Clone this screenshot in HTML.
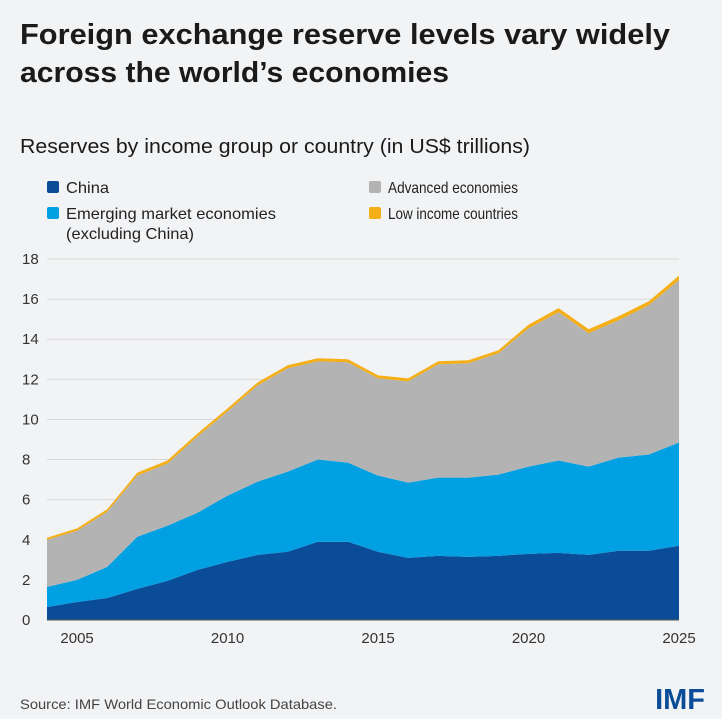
<!DOCTYPE html>
<html><head><meta charset="utf-8"><style>
body{margin:0;width:722px;height:719px;background:#f2f3f5;font-family:"Liberation Sans",sans-serif;overflow:hidden}
svg{position:absolute;left:0;top:0}
</style></head><body>
<svg id="c" width="722" height="719">
<text x="20" y="44" font-size="29" font-weight="bold" fill="#1a1a1a" textLength="650" lengthAdjust="spacingAndGlyphs">Foreign exchange reserve levels vary widely</text>
<text x="20" y="82" font-size="29" font-weight="bold" fill="#1a1a1a" textLength="429" lengthAdjust="spacingAndGlyphs">across the world’s economies</text>
<text x="20" y="153" font-size="20" fill="#1a1a1a" textLength="510" lengthAdjust="spacingAndGlyphs">Reserves by income group or country (in US$ trillions)</text>
<g font-size="16" fill="#222">
<rect x="47" y="181" width="12" height="12" rx="2" fill="#0a4c97"/>
<text x="66" y="193" textLength="43" lengthAdjust="spacingAndGlyphs">China</text>
<rect x="47" y="207" width="12" height="12" rx="2" fill="#00a0e2"/>
<text x="66" y="219" textLength="210" lengthAdjust="spacingAndGlyphs">Emerging market economies</text>
<text x="66" y="239" textLength="128" lengthAdjust="spacingAndGlyphs">(excluding China)</text>
<rect x="369" y="181" width="12" height="12" rx="2" fill="#b3b3b3"/>
<text x="388" y="193" textLength="130" lengthAdjust="spacingAndGlyphs">Advanced economies</text>
<rect x="369" y="207" width="12" height="12" rx="2" fill="#f4ae16"/>
<text x="388" y="219" textLength="130" lengthAdjust="spacingAndGlyphs">Low income countries</text>
</g>
<g id="grid"></g><g id="areas"></g><g id="axes"></g>
<text x="20" y="709" font-size="14" fill="#444" textLength="317" lengthAdjust="spacingAndGlyphs">Source: IMF World Economic Outlook Database.</text>
<text x="705" y="709" font-size="29" font-weight="bold" fill="#0a4c97" text-anchor="end">IMF</text>
</svg>
<script>
const years=[2004,2005,2006,2007,2008,2009,2010,2011,2012,2013,2014,2015,2016,2017,2018,2019,2020,2021,2022,2023,2024,2025];
const china=[0.65,0.9,1.1,1.55,1.95,2.5,2.9,3.25,3.4,3.9,3.9,3.4,3.1,3.2,3.15,3.2,3.3,3.35,3.25,3.45,3.45,3.7];
const emerging=[1.0,1.1,1.55,2.6,2.75,2.85,3.3,3.65,4.0,4.1,3.95,3.8,3.75,3.9,3.95,4.05,4.35,4.6,4.4,4.65,4.8,5.15];
const advanced=[2.35,2.45,2.75,3.05,3.1,3.8,4.2,4.8,5.15,4.9,5.0,4.85,5.05,5.65,5.7,6.05,6.9,7.4,6.65,6.85,7.45,8.1];
const lowIncome=[0.1,0.12,0.12,0.15,0.15,0.15,0.15,0.15,0.15,0.15,0.15,0.15,0.15,0.15,0.15,0.15,0.17,0.2,0.2,0.2,0.2,0.22];
const yTicks=[0,2,4,6,8,10,12,14,16,18];
const xTicks=[2005,2010,2015,2020,2025];
const NS="http://www.w3.org/2000/svg";
const X=y=>47+(y-2004)*(679-47)/(2025-2004);
const Y=v=>620-v*(620-259)/18;
function mk(t,a,p){const e=document.createElementNS(NS,t);for(const k in a)e.setAttribute(k,a[k]);p.appendChild(e);return e;}
const grid=document.getElementById('grid'),areas=document.getElementById('areas'),axes=document.getElementById('axes');
yTicks.forEach(v=>{
 const l=mk('line',{x1:47,x2:679,y1:Y(v),y2:Y(v),stroke:'#d8d8d8','stroke-width':1},grid);
 
 
 const t=mk('text',{x:22,y:Y(v)+5,'font-size':15,fill:'#333'},axes);t.textContent=v;
 
 
});
xTicks.forEach(yr=>{
 const t=mk('text',{x:X(yr),y:643,'font-size':15,fill:'#333','text-anchor':'middle'},axes);t.textContent=yr;
 
 
});
const series=[['china',china,'#0a4c97'],['emerging',emerging,'#00a0e2'],['advanced',advanced,'#b3b3b3'],['low-income',lowIncome,'#f4ae16']];
let base=years.map(()=>0);
series.forEach(([n,vals,col])=>{
 const top=base.map((b,i)=>b+vals[i]);
 let d=years.map((yr,i)=>(i?'L':'M')+X(yr)+','+Y(top[i])).join('');
 for(let i=years.length-1;i>=0;i--)d+='L'+X(years[i])+','+Y(base[i]);
 const p=mk('path',{d:d+'Z',fill:col},areas);
 
 
 base=top;
});
const ax=mk('line',{x1:47,x2:679,y1:620,y2:620,stroke:'#555','stroke-width':1},axes);


</script>
</body></html>
